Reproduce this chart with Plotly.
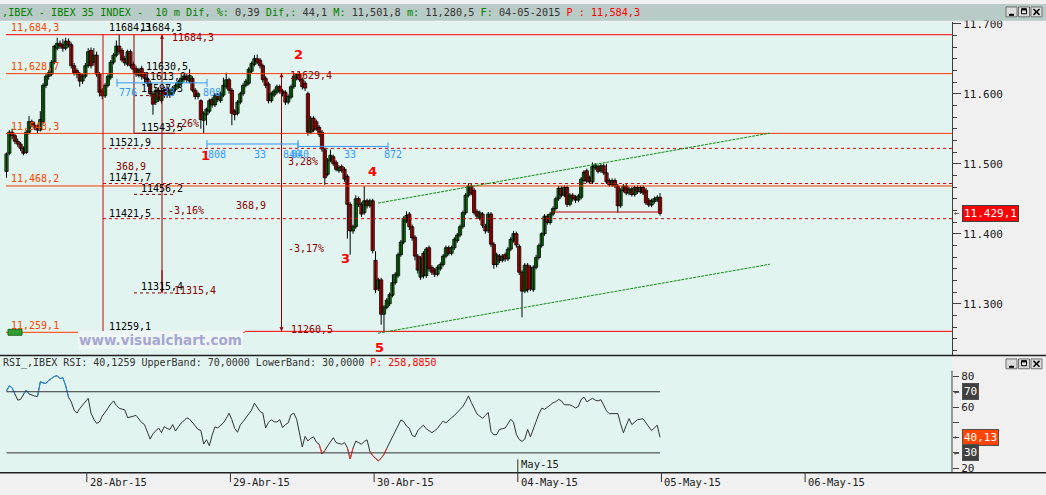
import plotly.graph_objects as go

# ---------------- data (10-minute bars, IBEX 35) ----------------
opens = [
    11489, 11515, 11545, 11540, 11532, 11528, 11522, 11516, 11545, 11560,
    11555, 11552, 11548, 11560, 11612, 11625, 11628, 11645, 11665, 11672,
    11670, 11665, 11675, 11670, 11640, 11633, 11628, 11618, 11625, 11640,
    11662, 11645, 11655, 11628, 11605, 11597, 11612, 11623, 11645, 11655,
    11668, 11662, 11650, 11642, 11660, 11642, 11636, 11626, 11636, 11628,
    11622, 11615, 11600, 11588, 11605, 11590, 11605, 11608, 11598, 11600,
    11606, 11610, 11615, 11620, 11625, 11618, 11622, 11605, 11596, 11590,
    11562, 11570, 11575, 11592, 11584, 11598, 11590, 11598, 11610, 11620,
    11605, 11575, 11572, 11588, 11600, 11612, 11615, 11632, 11642, 11650,
    11648, 11640, 11622, 11614, 11590, 11598, 11602, 11610, 11604, 11602,
    11588, 11595, 11610, 11622, 11628, 11620, 11615, 11600, 11545, 11565,
    11560, 11552, 11545, 11520, 11485, 11505, 11510, 11502, 11490, 11496,
    11492, 11482, 11442, 11404, 11410, 11450, 11442, 11430, 11447, 11440,
    11447, 11362, 11322, 11334, 11285, 11295, 11300, 11312, 11330, 11340,
    11370, 11388, 11418, 11428, 11410, 11395, 11368, 11338, 11372, 11340,
    11380, 11352, 11348, 11342, 11350, 11356, 11368, 11380, 11372, 11380,
    11390, 11398, 11410, 11430, 11455, 11468, 11462, 11432, 11422, 11428,
    11411, 11404, 11428, 11385, 11356, 11368, 11362, 11370, 11364, 11378,
    11390, 11400, 11382, 11345, 11318, 11355, 11352, 11320, 11352, 11366,
    11383, 11400, 11425, 11416, 11428, 11436, 11450, 11465, 11455, 11466,
    11442, 11455, 11452, 11448, 11452, 11476, 11490, 11480, 11474, 11494,
    11496, 11490, 11497, 11487, 11476, 11470, 11476, 11468, 11440, 11462,
    11468, 11458, 11464, 11456, 11466, 11460, 11466, 11462, 11448, 11441,
    11446, 11448, 11452]
highs = [
    11516, 11548, 11550, 11543, 11536, 11531, 11525, 11548, 11568, 11563,
    11560, 11556, 11575, 11615, 11628, 11634, 11648, 11670, 11680, 11676,
    11678, 11680, 11679, 11673, 11644, 11636, 11631, 11628, 11644, 11665,
    11666, 11665, 11660, 11631, 11608, 11615, 11628, 11648, 11658, 11676,
    11684.3, 11665, 11654, 11663, 11663, 11646, 11640, 11637, 11640, 11631,
    11626, 11619, 11603, 11608, 11609, 11608, 11610, 11612, 11607, 11611,
    11615, 11620, 11625, 11628, 11628, 11635, 11625, 11608, 11603, 11592,
    11575, 11580, 11593, 11595, 11601, 11601, 11603, 11623, 11630, 11623,
    11608, 11578, 11591, 11603, 11615, 11621, 11638, 11646, 11655, 11656,
    11651, 11643, 11625, 11617, 11603, 11607, 11613, 11613, 11607, 11605,
    11599, 11613, 11629.4, 11629, 11631, 11623, 11618, 11603, 11568, 11568,
    11563, 11555, 11548, 11523, 11508, 11520, 11513, 11505, 11498, 11499,
    11495, 11485, 11445, 11413, 11455, 11453, 11445, 11468, 11450, 11450,
    11450, 11375, 11337, 11337, 11298, 11308, 11316, 11342, 11345, 11373,
    11391, 11425, 11432, 11431, 11413, 11398, 11371, 11368, 11375, 11381,
    11383, 11355, 11351, 11355, 11359, 11371, 11383, 11383, 11383, 11395,
    11401, 11413, 11433, 11458, 11472, 11471, 11465, 11435, 11433, 11431,
    11414, 11431, 11431, 11388, 11373, 11371, 11371, 11373, 11381, 11395,
    11404, 11403, 11385, 11348, 11358, 11358, 11355, 11355, 11370, 11386,
    11402, 11428, 11428, 11431, 11439, 11453, 11468, 11468, 11469, 11469,
    11458, 11458, 11455, 11457, 11481, 11491, 11493, 11483, 11501.8, 11501,
    11499, 11500, 11500, 11500, 11479, 11479, 11479, 11471, 11465, 11471,
    11471, 11467, 11467, 11469, 11469, 11469, 11469, 11465, 11451, 11450,
    11453, 11455, 11458]
lows = [
    11480, 11512, 11535, 11528, 11524, 11518, 11512, 11514, 11542, 11552,
    11548, 11544, 11546, 11556, 11608, 11620, 11625, 11642, 11662, 11664,
    11660, 11662, 11666, 11636, 11626, 11622, 11610, 11614, 11622, 11637,
    11636, 11640, 11624, 11596, 11592, 11594, 11609, 11620, 11642, 11652,
    11656, 11645, 11640, 11639, 11636, 11630, 11624, 11623, 11620, 11615,
    11610, 11596, 11570, 11584, 11588, 11586, 11594, 11594, 11594, 11597,
    11603, 11607, 11612, 11617, 11616, 11615, 11602, 11592, 11592, 11550,
    11543.5, 11555, 11572, 11580, 11581, 11588, 11587, 11595, 11607, 11600,
    11555, 11562, 11569, 11585, 11597, 11609, 11612, 11629, 11639, 11642,
    11636, 11616, 11608, 11586, 11587, 11595, 11599, 11600, 11596, 11584,
    11585, 11592, 11607, 11619, 11617, 11606, 11604, 11540, 11542, 11545,
    11547, 11538, 11517, 11470, 11482, 11502, 11497, 11489, 11487, 11487,
    11474, 11393, 11370, 11400, 11407, 11438, 11424, 11427, 11436, 11437,
    11372, 11315, 11318, 11270, 11259.1, 11292, 11297, 11309, 11327, 11337,
    11367, 11385, 11415, 11405, 11390, 11362, 11343, 11334, 11336, 11337,
    11346, 11341, 11338, 11339, 11347, 11353, 11365, 11369, 11369, 11377,
    11387, 11395, 11407, 11427, 11452, 11455, 11427, 11421, 11419, 11408,
    11400, 11401, 11381, 11350, 11352, 11358, 11359, 11360, 11361, 11375,
    11387, 11380, 11341, 11280.5, 11315, 11316, 11318, 11317, 11349, 11363,
    11380, 11397, 11413, 11413, 11425, 11433, 11447, 11452, 11452, 11438,
    11439, 11446, 11444, 11445, 11449, 11473, 11472, 11471, 11471, 11491,
    11486, 11487, 11484, 11471, 11467, 11467, 11465, 11430, 11437, 11459,
    11455, 11455, 11453, 11453, 11457, 11457, 11455, 11441, 11438, 11438,
    11443, 11445, 11426]
closes = [
    11514, 11545, 11540, 11532, 11528, 11522, 11515, 11545, 11560, 11555,
    11552, 11548, 11563, 11612, 11625, 11630, 11645, 11668, 11672, 11668,
    11665, 11675, 11670, 11640, 11630, 11628, 11618, 11625, 11640, 11660,
    11640, 11655, 11628, 11602, 11597, 11612, 11625, 11645, 11655, 11668,
    11660, 11648, 11644, 11660, 11640, 11635, 11628, 11634, 11625, 11622,
    11615, 11600, 11585, 11605, 11592, 11605, 11598, 11598, 11604, 11608,
    11612, 11617, 11622, 11625, 11620, 11626, 11605, 11596, 11600, 11563,
    11572, 11578, 11590, 11584, 11598, 11592, 11600, 11612, 11620, 11605,
    11572, 11570, 11588, 11600, 11612, 11618, 11635, 11643, 11650, 11645,
    11640, 11620, 11612, 11590, 11600, 11604, 11610, 11604, 11600, 11588,
    11596, 11610, 11625, 11628, 11620, 11610, 11608, 11545, 11565, 11548,
    11550, 11542, 11521, 11480, 11505, 11512, 11500, 11492, 11495, 11490,
    11478, 11442, 11404, 11410, 11450, 11442, 11428, 11447, 11440, 11447,
    11376, 11320, 11334, 11285, 11295, 11305, 11313, 11330, 11342, 11370,
    11388, 11422, 11426, 11410, 11394, 11368, 11348, 11365, 11340, 11378,
    11350, 11345, 11342, 11352, 11356, 11368, 11380, 11372, 11380, 11392,
    11398, 11410, 11430, 11455, 11468, 11458, 11430, 11425, 11430, 11412,
    11404, 11428, 11385, 11356, 11370, 11362, 11368, 11364, 11378, 11392,
    11400, 11384, 11345, 11318, 11355, 11320, 11322, 11352, 11366, 11383,
    11400, 11425, 11416, 11428, 11436, 11450, 11465, 11455, 11466, 11442,
    11455, 11450, 11448, 11454, 11478, 11488, 11475, 11474, 11496, 11498,
    11489, 11497, 11487, 11474, 11470, 11476, 11468, 11440, 11462, 11468,
    11458, 11464, 11456, 11466, 11460, 11466, 11458, 11444, 11441, 11447,
    11450, 11452, 11429.1]
rsi_values = [
    70.4, 73.9, 72.6, 68, 64.5, 65, 68.5, 71.1, 68.5, 67.6,
    67.2, 66.8, 76.5, 75.8, 75.4, 77.5, 78.8, 80, 80.5, 78.6,
    79.2, 74, 66.5, 63.3, 58, 56, 59, 61, 63, 65.7,
    56, 52, 49.3, 50.2, 54, 57, 59.2, 62, 64, 61,
    59.2, 58.6, 58.2, 53, 53.3, 54, 54.5, 52, 49.8, 48.5,
    44, 39, 42.5, 44.5, 46.3, 43.3, 47.2, 46, 45.3, 48.5,
    44.3, 47, 49.5, 51, 53, 52, 49.6, 47.5, 45.4, 44.6,
    35.8, 38.6, 34.7, 41.5, 47, 46.3, 48, 49.6, 52.5, 56,
    51.7, 46, 43.5, 48.3, 50.5, 52.8, 55.5, 58, 62.5, 60,
    57.1, 56, 46.3, 50, 51.6, 50.4, 50.2, 51.7, 46.5, 48.5,
    49.6, 55, 56, 52, 44, 33.9, 40.8, 37.8, 39.5, 40.5,
    37, 35.6, 29.3, 31.5, 34.5, 37.5, 39.9, 36.7, 36.2, 35.6,
    36.7, 33.4, 26, 33, 37.7, 36.6, 35.6, 37.5, 38.5, 31,
    28.1, 26.5, 24.8, 26.5, 29, 33, 36.5, 40, 44.2, 48,
    51.5, 50.5, 47.5, 46, 41.5, 40.5, 44.5, 46.5, 48.1, 45.8,
    44.5, 43.2, 44.5, 46, 48.5, 50.8, 49.6, 51.5, 53, 54.5,
    56.5, 58.5, 60.3, 63.5, 67.3, 63, 59, 55.5, 54, 52.6,
    54.5, 56.5, 44, 41.8, 42, 45.3, 45.8, 46.3, 49, 52,
    50, 42, 38.8, 37.5, 39, 45.3, 40.5, 46.3, 50.5, 55.5,
    59.2, 58.5, 59.6, 61.2, 62.8, 63.5, 65, 64, 61.5, 61.2,
    61.4, 60.5, 59.4, 60.3, 65, 66.5, 63.5, 64.5, 65.7, 64.5,
    64, 64.8, 61, 57.5, 55.6, 55.5, 55.6, 55.8, 49, 43.1,
    48, 52.4, 48.5, 50, 51.7, 52, 52.3, 49.6, 47, 44.6,
    46.3, 48.1, 40.13]

price_ticks = [11300, 11400, 11500, 11600, 11700]
price_tick_labels = ["11.300", "11.400", "11.500", "11.600", "11.700"]
rsi_ticks = [20, 30, 40, 50, 60, 70, 80]
rsi_tick_labels = ["20", "", "", "", "60", "", "80"]
rsi_upper, rsi_lower = 70, 30
day_start_bars = [29, 80, 131, 182, 233, 284]
day_labels = ["28-Abr-15", "29-Abr-15", "30-Abr-15", "04-May-15", "05-May-15", "06-May-15"]
month_start_bar, month_label = 182, "May-15"

level_values = [11684.3, 11628.7, 11543.3, 11468.2, 11259.1]
level_labels = ["11,684,3", "11,628,7", "11,543,3", "11,468,2", "11,259,1"]
proj_levels = [11521.9, 11471.7, 11421.5]
short_levels = [11597.3, 11456.2, 11315.4]
retr_low = 11543.5
last_price = 11429.1
last_price_label = "11.429,1"
rsi_last_label = "40,13"
upper_channel = ([131.9, 271.0], [11443.7, 11543.7])
lower_channel = ([131.9, 271.0], [11257.9, 11356.4])
support_line = ([193.6, 232.7], 11431.0)

bars = list(range(len(closes)))

# ---------------- geometry helpers ----------------
W, H = 1046, 495
MONO = "DejaVu Sans Mono"
X0, BW = 6.5, 2.817           # first bar centre px, px per bar
def bx(px): return (px - X0) / BW
def py_price(py): return 11700 - (py - 20) / 0.71
def rsi_at(py): return 70 - (py - 393.3) / 1.55
def PX(x): return x / W
def PY(y): return 1 - y / H
AX = 952                       # right axis px

UP, DOWN = "#0a960a", "#ff0000"
fig = go.Figure()
# wicks
wx, wy = [], []
for b, h, l in zip(bars, highs, lows):
    wx += [b, b, None]
    wy += [l, h, None]
fig.add_trace(go.Scatter(x=wx, y=wy, mode="lines", line=dict(color="#000000", width=1),
                         hoverinfo="skip", xaxis="x", yaxis="y"))
# bodies
body_base = [min(o, c) for o, c in zip(opens, closes)]
body_len = [max(abs(c - o), 1.2) for o, c in zip(opens, closes)]
body_col = [UP if c >= o else DOWN for o, c in zip(opens, closes)]
fig.add_trace(go.Bar(x=bars, y=body_len, base=body_base, width=1.15,
                     marker=dict(color=body_col, line=dict(color="#000000", width=0.8)),
                     hoverinfo="skip", xaxis="x", yaxis="y"))

n = len(rsi_values)
def seg(cond):
    out = []
    for k, v in enumerate(rsi_values):
        near = cond(v) or (k > 0 and cond(rsi_values[k-1])) or (k < n-1 and cond(rsi_values[k+1]))
        out.append(v if near else None)
    return out
fig.add_trace(go.Scatter(x=bars, y=rsi_values, mode="lines", line=dict(color="#333333", width=1),
                         xaxis="x", yaxis="y2", hoverinfo="skip"))
fig.add_trace(go.Scatter(x=bars, y=seg(lambda v: v > rsi_upper), mode="lines", connectgaps=False,
                         line=dict(color="#1e90ff", width=1), xaxis="x", yaxis="y2", hoverinfo="skip"))
fig.add_trace(go.Scatter(x=bars, y=seg(lambda v: v < rsi_lower), mode="lines", connectgaps=False,
                         line=dict(color="#ff3030", width=1), xaxis="x", yaxis="y2", hoverinfo="skip"))

shapes, ann = [], []
def hline(y, x0p, x1p, color, dash="solid", width=1, yref="y"):
    shapes.append(dict(type="line", xref="paper", yref=yref, x0=PX(x0p), x1=PX(x1p), y0=y, y1=y,
                       line=dict(color=color, width=width, dash=dash)))
def vline(xp, y0, y1, color, width=1, yref="y"):
    shapes.append(dict(type="line", xref="paper", yref=yref, x0=PX(xp), x1=PX(xp), y0=y0, y1=y1,
                       line=dict(color=color, width=width)))
def pline(x0, y0, x1, y1, color, width=1):
    shapes.append(dict(type="line", xref="paper", yref="paper", x0=PX(x0), x1=PX(x1), y0=PY(y0), y1=PY(y1),
                       line=dict(color=color, width=width)))
def prect(x0, y0, x1, y1, fill, line=None, lw=1):
    shapes.append(dict(type="rect", xref="paper", yref="paper", x0=PX(x0), x1=PX(x1), y0=PY(y1), y1=PY(y0),
                       fillcolor=fill, line=dict(color=line or fill, width=lw if line else 0), layer="above"))
def label(xp, yp, text, color, size=10, family=MONO, bold=False, xanchor="left", bg=None, border=None,
          yref="paper", yval=None):
    ann.append(dict(x=PX(xp), y=(PY(yp) if yref == "paper" else yval), xref="paper", yref=yref,
                    text=("<b>%s</b>" % text) if bold else text, showarrow=False,
                    xanchor=xanchor, yanchor="middle",
                    font=dict(family=family, size=size, color=color),
                    bgcolor=bg, bordercolor=border, borderwidth=1 if border else 0, borderpad=1))

# header bar
prect(0, 0, W, 17, "#b9cbc6")
GREEN, DARK = "#008000", "#333333"
hdr = (f'<span style="color:{GREEN}">,IBEX - IBEX 35 INDEX -\u00a0\u00a010 m Dif, %:</span> '
       f'<span style="color:{DARK}">0,39</span> <span style="color:{GREEN}">Dif,:</span> '
       f'<span style="color:{DARK}">44,1</span> <span style="color:{GREEN}">M:</span> '
       f'<span style="color:{DARK}">11,501,8</span> <span style="color:{GREEN}">m:</span> '
       f'<span style="color:{DARK}">11,280,5</span> <span style="color:{GREEN}">F:</span> '
       f'<span style="color:{DARK}">04-05-2015</span> <span style="color:#ff0000">P : 11,584,3</span>')
label(1, 8.5, hdr, DARK, size=10.2)

# window buttons
def buttons(ytop):
    for bx0 in (1006, 1018.5, 1031):
        prect(bx0, ytop, bx0 + 11, ytop + 10, "#dcdcdc", "#707070")
    pline(1009, ytop + 8, 1014, ytop + 8, "#000000", 2)
    prect(1021.5, ytop + 2, 1026.5, ytop + 7, "rgba(0,0,0,0)", "#000000", 1)
    pline(1021.5, ytop + 2.5, 1026.5, ytop + 2.5, "#000000", 2)
    pline(1033.5, ytop + 2, 1039.5, ytop + 8, "#000000", 1.5)
    pline(1033.5, ytop + 8, 1039.5, ytop + 2, "#000000", 1.5)
buttons(3)
buttons(360)

# panel separators / axis line of RSI
pline(0, 356.5, W, 356.5, "#202020", 1.5)
pline(0, 475.5, W, 475.5, "#202020", 1.5)
vline(AX, PY(372), PY(475), "#404040", yref="paper")

# horizontal level lines
level_colors = ["#ff0000", "#ff3a00", "#ff3a00", "#ff3a00", "#ff3a00"]
for v, c in zip(level_values[:4], level_colors[:4]):
    hline(v, 6, AX, c)
hline(level_values[4], 6, 245, level_colors[4])
hline(11260.5, 245, AX, "#ff0000")
for v in proj_levels:
    hline(v, 103, AX, "#e00000", dash="3px,3px")
for v in short_levels:
    hline(v, 134, 175, "#8b0000", dash="3px,3px")
# fibonacci box / verticals
vline(103, level_values[0], level_values[4], "#e00000")
vline(134, level_values[0], retr_low, "#8b0000")
hline(retr_low, 134, 175, "#8b0000")
vline(162, 11315.4, 11684.3, "#8b0000")
vline(281.5, 11260.5, 11629.4, "#8b0000")
for (xh, yh, yt) in ((162, 11684.3, 11640), (162, 11315.4, 11350), (281.5, 11629.4, 11590), (281.5, 11260.5, 11300)):
    ann.append(dict(x=bx(xh), y=yh, ax=bx(xh), ay=yt, xref="x", yref="y", axref="x", ayref="y",
                    showarrow=True, arrowhead=2, arrowsize=0.8, arrowwidth=1, arrowcolor="#8b0000", text=""))
# support line
shapes.append(dict(type="line", xref="x", yref="y", x0=support_line[0][0], x1=support_line[0][1],
                   y0=support_line[1], y1=support_line[1], line=dict(color="#c00000", width=1)))
# channel lines
for ch in (upper_channel, lower_channel):
    shapes.append(dict(type="line", xref="x", yref="y", x0=ch[0][0], x1=ch[0][1], y0=ch[1][0], y1=ch[1][1],
                       line=dict(color="#109010", width=1, dash="3px,1px")))
# blue measuring lines
BLUE = "#3399ff"
def blue_seg(x0, x1, yp):
    pline(x0, yp, x1, yp, BLUE, 1)
    pline(x0, yp - 4, x0, yp + 4, BLUE, 1)
    pline(x1, yp - 4, x1, yp + 4, BLUE, 1)
blue_seg(117, 207, 80)
blue_seg(207, 298, 142)
blue_seg(298, 388, 144.5)

# RSI bands
for v in (rsi_upper, rsi_lower):
    shapes.append(dict(type="line", xref="x", yref="y2", x0=0, x1=len(bars) - 1, y0=v, y1=v,
                       line=dict(color="#333333", width=1)))

# date ticks and labels
for b, t in zip(day_start_bars, day_labels):
    shapes.append(dict(type="line", xref="x", yref="paper", x0=b - 0.5, x1=b - 0.5, y0=PY(476), y1=PY(485),
                       line=dict(color="#303030", width=1)))
    ann.append(dict(x=b - 0.5, y=PY(485), xref="x", yref="paper", text=t, showarrow=False, xanchor="left",
                    yanchor="middle", xshift=1, font=dict(family=MONO, size=10.5, color="#202020")))
shapes.append(dict(type="line", xref="x", yref="paper", x0=month_start_bar - 0.5, x1=month_start_bar - 0.5,
                   y0=PY(462), y1=PY(475), line=dict(color="#303030", width=1)))
ann.append(dict(x=month_start_bar - 0.5, y=PY(467), xref="x", yref="paper", text=month_label, showarrow=False,
                xanchor="left", yanchor="middle", xshift=1, font=dict(family=MONO, size=10.5, color="#202020")))

# left level labels (orange)
for v, t in zip(level_values, level_labels):
    label(10, 0, t, "#ff4500", yref="y", yval=v + 10)
# tool labels (black)
for xp, yp, t in ((108, 24, "11684,3"), (139, 24, "11684,3"), (145, 63, "11630,5"), (143, 74, "11613,9"),
                  (140, 86, "11597,3"), (140, 125, "11543,5"), (108, 140, "11521,9"), (108, 176, "11471,7"),
                  (140, 187, "11456,2"), (108, 212, "11421,5"), (140, 287, "11315,4"), (108, 327, "11259,1")):
    label(xp, yp, t, "#000000")
# tool labels (dark red)
for xp, yp, t in ((171, 34, "11684,3"), (168, 121, "3,26%"), (115, 165, "368,9"), (167, 209, "-3,16%"),
                  (235, 204, "368,9"), (173, 291, "11315,4"), (289, 73, "11629,4"), (287, 160, "3,28%"),
                  (287, 248, "-3,17%"), (290, 330, "11260,5")):
    label(xp, yp, t, "#8b0000")
# blue labels
for xp, yp, t in ((118, 90, "776"), (162, 90, "33"), (202, 90, "808"), (207, 153, "808"), (253, 153, "33"),
                  (282, 153, "840"), (290, 153, "840"), (343, 153, "33"), (383, 153, "872")):
    label(xp, yp, t, BLUE)
# wave counts
for xp, yp, t in ((200, 154, "1"), (293, 51, "2"), (340, 258, "3"), (367, 170, "4"), (374, 348, "5")):
    label(xp, yp, t, "#ff0000", size=13, family="DejaVu Sans", bold=True)
# small green marker at low level
prect(8, 330, 22, 336, "#2f9e2f", "#1d6b1d")
# watermark
label(160, 341, "www.visualchart.com", "#a6a6d2", size=13.5, family="DejaVu Sans", bold=True,
      xanchor="center", bg="#eef7f5")

# right axis price tag
label(953, 0, "\u2190", "#404040", size=9, yref="y", yval=last_price)
label(962, 0, last_price_label, "#ffffff", size=11, bg="#ff0000", border="#404040", yref="y", yval=last_price)
# RSI header
label(2, 364, 'RSI_,IBEX RSI: 40,1259 UpperBand: 70,0000 LowerBand: 30,0000 '
      '<span style="color:#ff0000">P: 258,8850</span>', "#333333", size=10)
# RSI right boxes
for v, t, bg in ((rsi_upper, "70", "#404040"), (rsi_values[-1], rsi_last_label, "#ff4500"), (rsi_lower, "30", "#404040")):
    label(953, 0, "\u2190", "#404040", size=9, yref="y2", yval=v)
    label(962, 0, t, "#ffffff", size=11, bg=bg, border="#505050", yref="y2", yval=v)

minor_vals = [11200 + k * 100 / 6 for k in range(0, 33)]
fig.update_layout(
    width=W, height=H, margin=dict(l=0, r=0, t=0, b=0),
    paper_bgcolor="#f0f0f0", plot_bgcolor="#e1f4ef",
    showlegend=False, hovermode=False, barmode="overlay",
    font=dict(family=MONO, size=10, color="#202020"),
    xaxis=dict(domain=[0, AX / W], range=[bx(0), bx(AX)], visible=False, showgrid=False, anchor="y"),
    yaxis=dict(domain=[PY(356), PY(18)], range=[py_price(356), py_price(18)], side="right", anchor="x",
               showline=True, linecolor="#404040", linewidth=1, ticks="outside", ticklen=8,
               tickcolor="#404040", tickvals=price_ticks, ticktext=price_tick_labels,
               tickfont=dict(family=MONO, size=11, color="#202020"), showgrid=False, zeroline=False,
               minor=dict(tickvals=minor_vals, ticks="outside", ticklen=4, tickcolor="#404040", showgrid=False)),
    yaxis2=dict(domain=[PY(475), PY(357)], range=[rsi_at(475), rsi_at(357)], side="right", anchor="x",
                showline=False, ticks="outside", ticklen=6, tickcolor="#404040",
                tickvals=rsi_ticks, ticktext=rsi_tick_labels,
                tickfont=dict(family=MONO, size=11, color="#202020"), showgrid=False, zeroline=False),
    shapes=shapes, annotations=ann,
)
fig.write_html("out.html", config={"displayModeBar": False},
               post_script="document.body.style.margin='0';document.body.style.overflow='hidden';")
